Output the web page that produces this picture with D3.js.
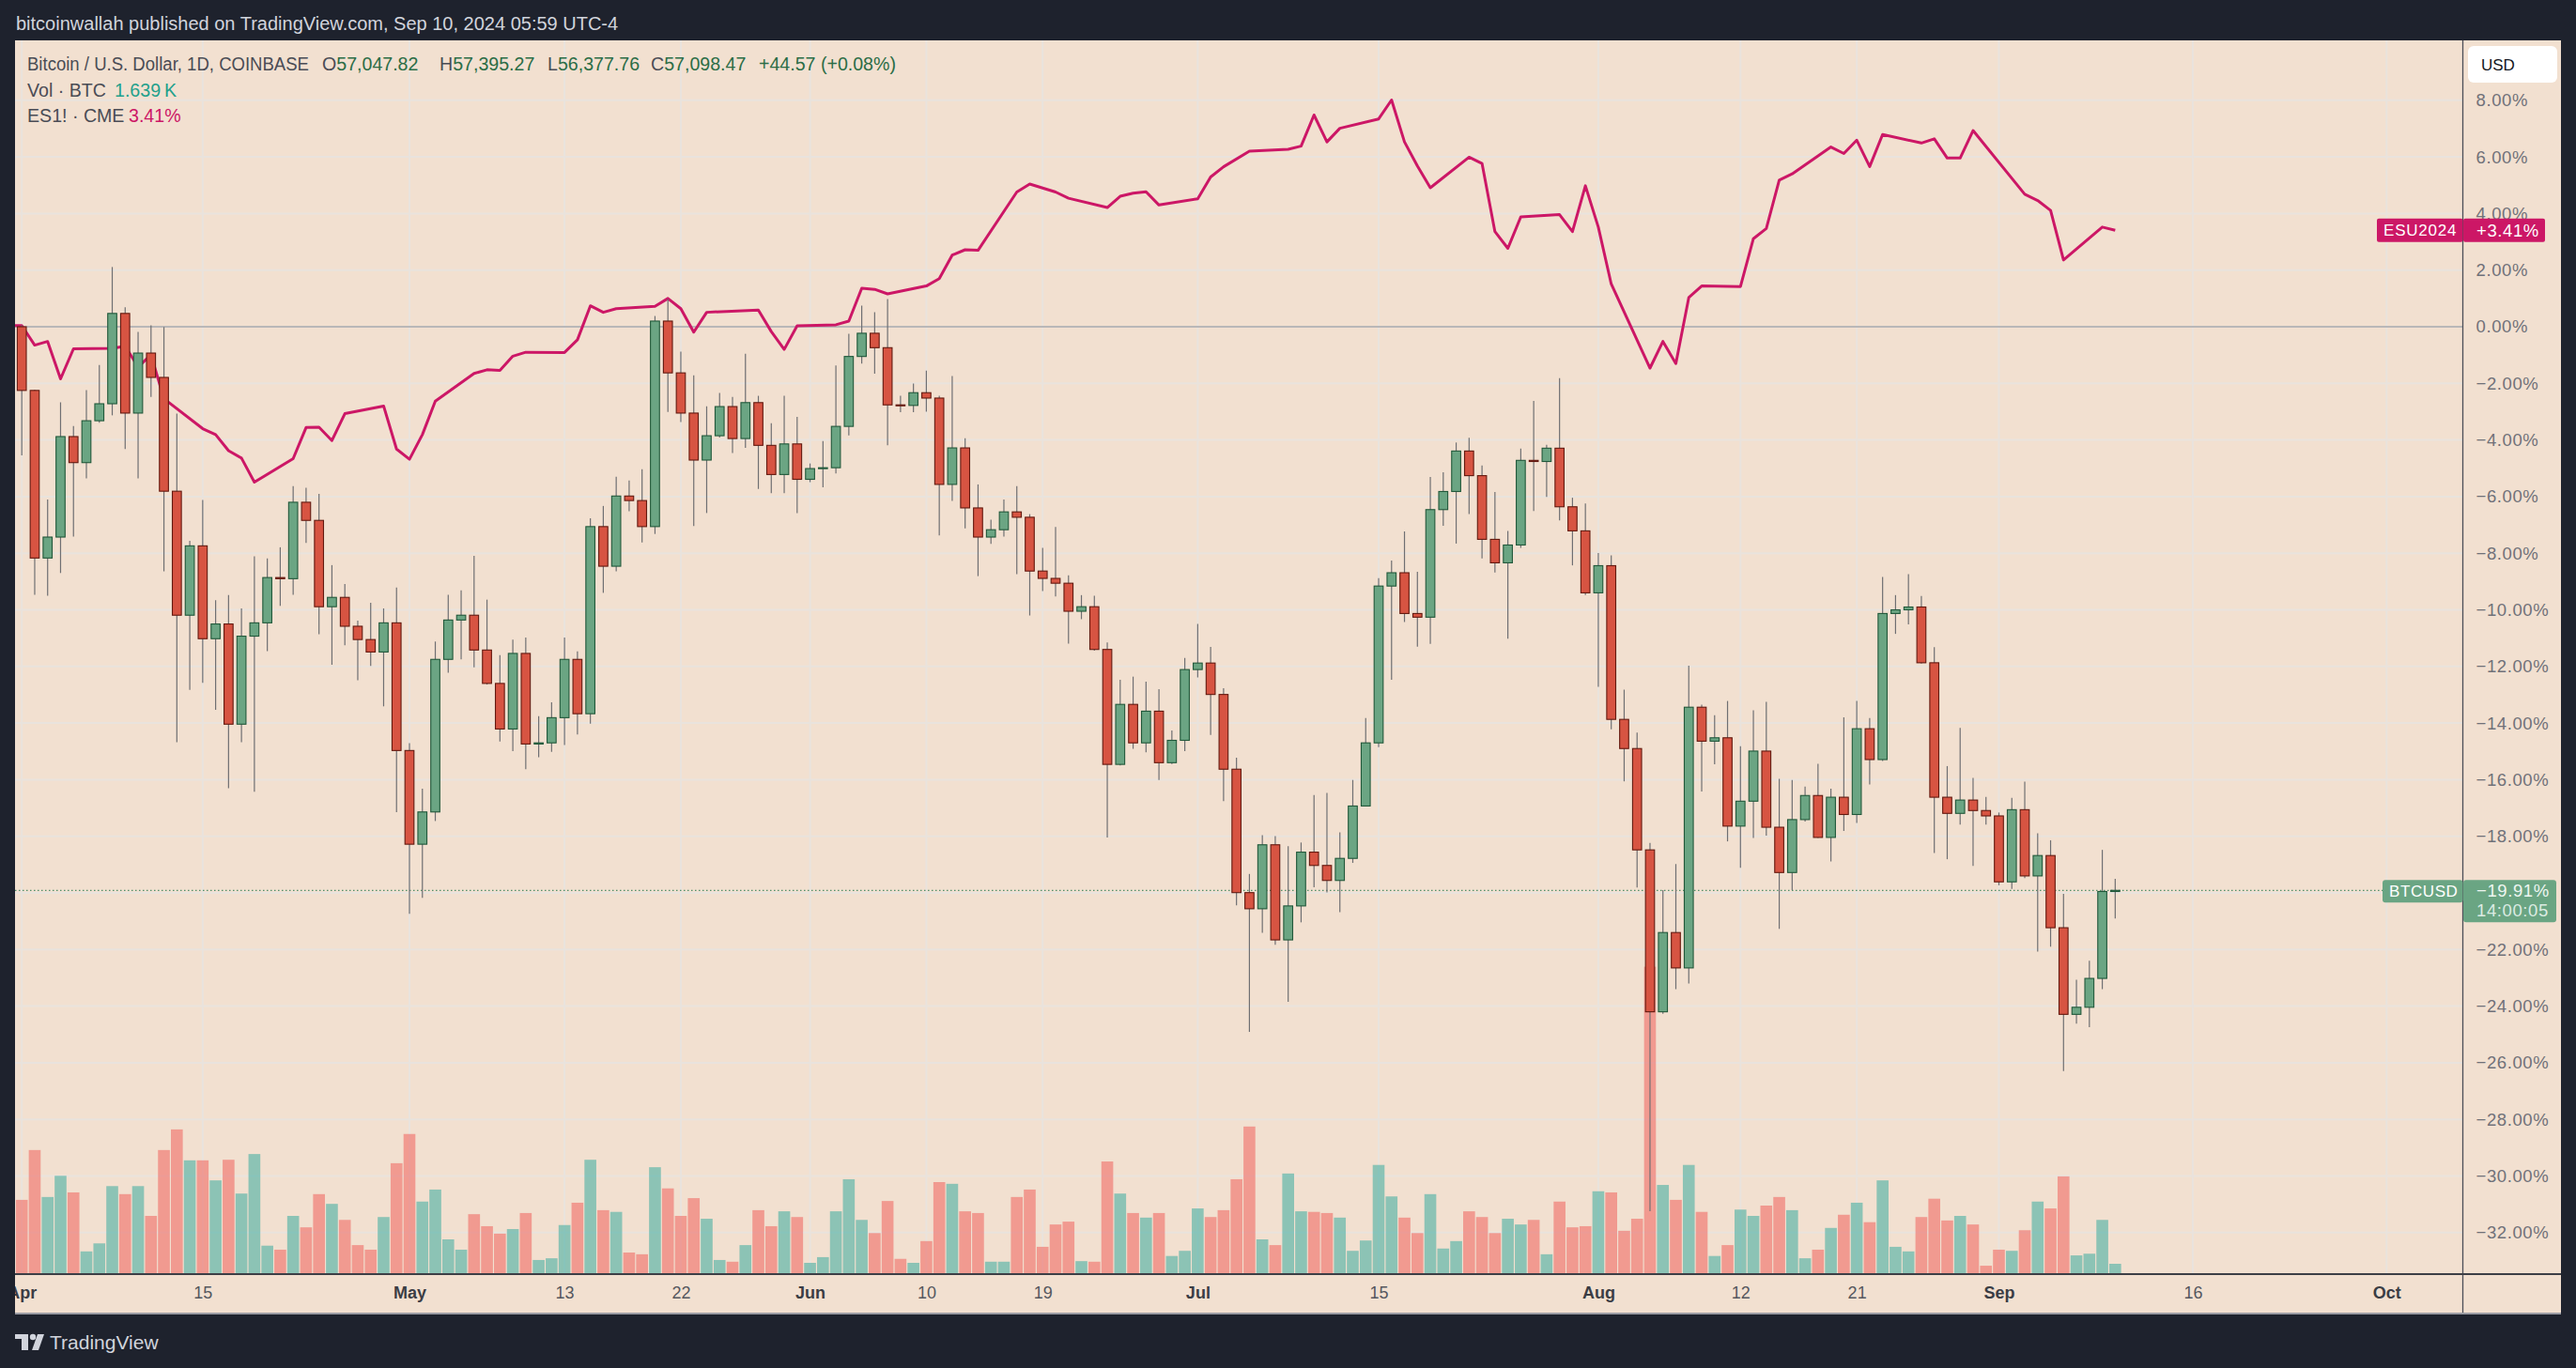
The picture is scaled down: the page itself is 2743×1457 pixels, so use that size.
<!DOCTYPE html>
<html><head><meta charset="utf-8">
<script src="https://cdn.jsdelivr.net/npm/d3@7"></script>
<style>
html,body{margin:0;padding:0;background:#1e222d;overflow:hidden;}
svg{display:block;}
text{font-family:"Liberation Sans",Arial,sans-serif;}
</style></head><body>
<svg id="chart" width="2743" height="1457"></svg>
<script>
// ===== DATA (BTCUSD daily, % change vs. base; ES1! % change; volume in K BTC) =====
const startDate = "2024-04-01", endDate = "2024-09-10";
const openP = [0.00,-2.25,-8.17,-7.43,-3.88,-4.80,-3.32,-2.72,0.47,-3.05,
-0.93,-1.79,-5.81,-10.19,-7.74,-11.02,-10.50,-14.04,-10.93,-10.46,
-8.86,-8.90,-6.20,-6.84,-9.89,-9.56,-10.58,-11.05,-11.49,-10.46,
-14.97,-18.28,-17.14,-11.75,-10.36,-10.19,-11.42,-12.60,-14.21,-11.54,
-14.74,-14.70,-13.81,-11.75,-13.67,-7.06,-8.46,-5.98,-6.14,-7.06,
0.20,-1.63,-3.05,-4.71,-3.85,-2.82,-3.95,-2.68,-4.19,-5.22,
-4.14,-5.39,-5.01,-4.98,-3.52,-1.05,-0.23,-0.74,-2.76,-2.78,
-2.33,-2.52,-5.57,-4.28,-6.40,-7.43,-7.17,-6.54,-6.73,-8.63,
-8.89,-9.06,-10.05,-9.89,-11.40,-15.46,-13.34,-14.70,-13.58,-15.40,
-14.61,-12.11,-11.88,-12.99,-15.63,-19.99,-20.56,-18.30,-21.66,-20.46,
-18.56,-19.03,-19.56,-18.78,-16.93,-14.70,-9.16,-8.69,-10.13,-10.26,
-6.46,-5.82,-4.39,-5.26,-7.51,-8.34,-7.71,-4.72,-4.76,-4.29,
-6.36,-7.21,-9.40,-8.44,-13.87,-14.90,-18.48,-24.20,-21.40,-22.65,
-13.44,-14.64,-14.52,-17.64,-16.76,-14.99,-17.68,-19.28,-17.41,-16.56,
-18.04,-16.62,-17.23,-14.20,-15.29,-10.13,-10.00,-9.90,-11.87,-16.62,
-17.19,-16.72,-17.09,-17.28,-19.61,-17.06,-19.40,-18.68,-21.23,-24.29,
-24.04,-23.02,-19.95];
const highP = [0.06,-2.22,-6.10,-2.67,-3.51,-2.24,-1.35,2.11,0.69,-0.18,
0.05,-0.01,-3.07,-7.56,-6.12,-9.66,-9.48,-9.95,-8.11,-8.18,
-7.79,-5.63,-5.69,-5.90,-8.42,-9.09,-10.38,-9.75,-9.95,-9.21,
-14.71,-16.32,-11.12,-9.47,-9.31,-8.09,-9.64,-11.60,-11.05,-10.98,
-13.76,-13.27,-10.98,-11.47,-6.77,-6.33,-5.30,-5.43,-5.03,0.38,
0.98,-0.88,-1.72,-2.81,-2.34,-2.48,-0.95,-2.44,-3.41,-2.44,
-3.18,-4.83,-4.04,-1.37,-0.25,0.75,0.51,0.98,-2.44,-2.01,
-1.55,-2.44,-1.74,-3.94,-5.57,-6.82,-6.10,-5.63,-6.62,-7.81,
-7.07,-8.78,-9.48,-9.50,-11.15,-12.47,-12.36,-12.54,-12.80,-14.26,
-11.70,-10.50,-11.31,-12.77,-15.22,-19.33,-17.96,-17.99,-18.35,-18.22,
-16.54,-16.47,-17.86,-16.01,-13.82,-8.88,-8.26,-7.23,-8.66,-5.31,
-5.14,-4.09,-3.92,-4.90,-5.84,-7.21,-4.30,-2.62,-4.17,-1.82,
-6.04,-6.24,-7.99,-8.08,-12.82,-14.34,-18.23,-19.90,-18.98,-11.97,
-13.35,-13.72,-13.22,-14.82,-13.55,-13.25,-15.97,-16.01,-16.24,-15.44,
-16.32,-13.80,-13.22,-13.82,-8.84,-9.48,-8.74,-9.51,-11.32,-15.52,
-14.17,-15.94,-16.61,-17.16,-16.64,-16.07,-17.89,-18.14,-20.03,-23.07,
-22.40,-18.48,-19.50];
const lowP = [-4.54,-9.47,-9.50,-8.70,-7.41,-5.36,-3.39,-3.13,-4.32,-5.36,
-2.48,-8.64,-14.68,-12.83,-12.58,-13.53,-16.30,-14.68,-16.43,-11.46,
-9.86,-9.47,-7.64,-10.86,-11.94,-11.25,-12.49,-11.98,-13.41,-17.15,
-20.74,-20.17,-17.46,-12.22,-11.75,-12.03,-12.64,-14.65,-14.99,-15.63,
-15.21,-15.02,-14.78,-14.40,-14.02,-9.40,-8.64,-6.52,-7.62,-7.32,
-3.01,-3.37,-7.04,-6.58,-3.91,-4.46,-4.28,-5.73,-5.88,-5.88,
-6.58,-5.49,-5.67,-5.18,-3.84,-1.30,-1.66,-4.19,-3.02,-3.02,
-3.00,-7.37,-6.15,-7.12,-8.81,-7.67,-7.41,-8.74,-10.20,-9.34,
-9.53,-11.19,-10.33,-11.44,-18.04,-15.50,-14.91,-15.03,-16.01,-15.45,
-14.99,-12.39,-14.42,-16.76,-20.44,-24.91,-21.41,-21.83,-23.85,-21.04,
-19.80,-19.98,-20.68,-18.94,-16.93,-14.85,-12.47,-10.43,-11.30,-11.20,
-7.03,-7.66,-6.62,-8.18,-8.68,-11.02,-7.81,-6.51,-6.01,-6.84,
-8.43,-9.48,-12.72,-14.22,-16.06,-19.81,-31.24,-24.27,-23.40,-23.20,
-16.42,-15.46,-18.18,-19.11,-18.06,-17.98,-21.27,-19.90,-17.48,-18.06,
-18.89,-17.81,-17.53,-16.17,-15.34,-10.85,-10.51,-11.90,-18.59,-18.81,
-17.59,-19.05,-17.59,-19.73,-19.86,-19.48,-22.07,-21.90,-26.29,-24.62,
-24.74,-23.40,-20.90];
const closeP = [-2.25,-8.17,-7.43,-3.88,-4.80,-3.32,-2.72,0.47,-3.05,-0.93,
-1.79,-5.81,-10.19,-7.74,-11.02,-10.50,-14.04,-10.93,-10.46,-8.86,
-8.90,-6.20,-6.84,-9.89,-9.56,-10.58,-11.05,-11.49,-10.46,-14.97,
-18.28,-17.14,-11.75,-10.36,-10.19,-11.42,-12.60,-14.21,-11.54,-14.74,
-14.70,-13.81,-11.75,-13.67,-7.06,-8.46,-5.98,-6.14,-7.06,0.20,
-1.63,-3.05,-4.71,-3.85,-2.82,-3.95,-2.68,-4.19,-5.22,-4.14,
-5.39,-5.01,-4.98,-3.52,-1.05,-0.23,-0.74,-2.76,-2.78,-2.33,
-2.52,-5.57,-4.28,-6.40,-7.43,-7.17,-6.54,-6.73,-8.63,-8.89,
-9.06,-10.05,-9.89,-11.40,-15.46,-13.34,-14.70,-13.58,-15.40,-14.61,
-12.11,-11.88,-12.99,-15.63,-19.99,-20.56,-18.30,-21.66,-20.46,-18.56,
-19.03,-19.56,-18.78,-16.93,-14.70,-9.16,-8.69,-10.13,-10.26,-6.46,
-5.82,-4.39,-5.26,-7.51,-8.34,-7.71,-4.72,-4.76,-4.29,-6.36,
-7.21,-9.40,-8.44,-13.87,-14.90,-18.48,-24.20,-21.40,-22.65,-13.44,
-14.64,-14.52,-17.64,-16.76,-14.99,-17.68,-19.28,-17.41,-16.56,-18.04,
-16.62,-17.23,-14.20,-15.29,-10.13,-10.00,-9.90,-11.87,-16.62,-17.19,
-16.72,-17.09,-17.28,-19.61,-17.06,-19.40,-18.68,-21.23,-24.29,-24.04,
-23.02,-19.95,-19.91];
const volumeK = [12.8,21.5,13.3,17.0,14.1,3.8,5.2,15.2,13.8,15.2,
10.0,21.5,25.1,19.7,19.7,16.2,19.8,13.9,20.8,4.8,
4.1,10.0,8.0,13.8,12.1,9.3,4.9,4.1,9.8,19.2,
24.3,12.5,14.6,5.9,4.1,10.3,8.2,6.9,7.7,10.5,
2.3,2.6,8.4,12.3,19.8,11.0,10.7,3.6,3.3,18.5,
14.8,10.0,13.1,9.5,2.3,2.0,4.9,11.0,8.2,10.8,
9.8,1.8,2.8,10.8,16.4,9.3,7.0,12.6,2.5,1.8,
5.6,15.9,15.6,10.8,10.5,2.0,2.0,13.3,14.6,4.6,
8.5,9.0,2.1,2.0,19.5,13.9,10.5,9.7,10.5,3.0,
3.9,11.3,9.8,11.0,16.4,25.6,5.9,4.9,17.4,10.8,
10.7,10.5,9.7,3.9,5.7,18.9,13.4,9.7,7.0,13.8,
4.3,5.6,10.8,9.8,7.0,9.5,8.5,9.3,3.3,12.5,
8.0,8.2,14.3,14.1,7.4,9.5,53.5,15.4,12.8,18.9,
10.7,3.0,4.9,11.1,10.0,11.8,13.3,11.0,2.6,4.1,
7.9,10.2,12.3,8.9,16.2,4.6,3.8,9.8,13.0,9.2,
10.0,8.5,1.3,4.1,3.9,7.5,12.5,11.3,16.9,3.1,
3.4,9.3,1.639];
// ES1! (CME) % change, null on non-trading days
const esPrev = [["2024-03-28", 0.06]];
const esP = [0.04,-0.65,-0.52,-1.84,-0.78,null,null,-0.76,-0.69,-1.42,
-0.99,-2.54,null,null,-3.60,-3.81,-4.38,-4.64,-5.49,null,
null,-4.66,-3.56,-3.55,-4.02,-3.07,null,null,-2.80,-4.32,
-4.68,-3.81,-2.63,null,null,-1.65,-1.52,-1.54,-1.04,-0.90,
null,null,-0.91,-0.46,0.74,0.51,0.64,null,null,0.72,
1.00,0.64,-0.19,0.51,null,null,null,0.59,-0.17,-0.80,
0.03,null,null,0.07,0.20,1.36,1.32,1.16,null,null,
1.44,1.70,2.53,2.72,2.70,null,null,4.76,5.04,null,
4.76,4.54,null,null,4.21,4.61,4.72,4.77,4.30,null,
null,4.52,5.29,5.65,null,6.20,null,null,6.27,6.38,
7.48,6.53,7.01,null,null,7.34,8.01,6.53,5.68,4.91,
null,null,5.99,5.77,3.36,2.77,3.88,null,null,3.96,
3.36,4.98,3.52,1.51,null,null,-1.46,-0.52,-1.30,1.03,
1.44,null,null,1.42,3.11,3.47,5.18,5.40,null,null,
6.35,6.12,6.59,5.66,6.79,null,null,6.49,6.64,5.96,
5.96,6.93,null,null,null,4.68,4.46,4.11,2.36,null,
null,3.52,3.41];
const yTicks = [8,6,4,2,0,-2,-4,-6,-8,-10,-12,-14,-16,-18,-20,-22,-24,-26,-28,-30,-32];
const xTickDates = ["2024-04-01","2024-04-15","2024-05-01","2024-05-13","2024-05-22","2024-06-01","2024-06-10","2024-06-19","2024-07-01","2024-07-15","2024-08-01","2024-08-12","2024-08-21","2024-09-01","2024-09-16","2024-10-01"];
const xTickLabels = ["Apr","15","May","13","22","Jun","10","19","Jul","15","Aug","12","21","Sep","16","Oct"];
const monthLabels = ["Apr","May","Jun","Jul","Aug","Sep","Oct"];
const lastPct = -19.91, lastEs = 3.41;

// ===== LAYOUT =====
const W = 2743, H = 1457;
const P = {left:16, top:43, right:2727, bottom:1400};
const plotRight = 2622.5, axisY = 1357, volBase = 1356;
const C = {dark:"#1e222d", bg:"#f2e0d0", grid:"#e9e3dd", upFill:"#6ba583", upLine:"#21583a",
  dnFill:"#d75442", dnLine:"#63190f", wick:"#6f6f72", es:"#cc1766"};

const parse = d3.utcParse("%Y-%m-%d");
const dates = d3.utcDay.range(parse(startDate), d3.utcDay.offset(parse(endDate), 1));
const bars = dates.map((d,i)=>({d, o:openP[i], h:highP[i], l:lowP[i], c:closeP[i], v:volumeK[i]}));

const x = d3.scaleUtc().domain([parse("2024-04-01"), parse("2024-10-01")]).range([23.2, 2541.3]);
const y = d3.scaleLinear().domain([-32, 8]).range([1312.8, 106.8]);
const yv = d3.scaleLinear().domain([0, 25]).range([volBase, volBase - 152.5]);

const svg = d3.select("#chart");
svg.append("rect").attr("width",W).attr("height",H).attr("fill",C.dark);
svg.append("rect").attr("x",P.left).attr("y",P.top).attr("width",P.right-P.left).attr("height",P.bottom-P.top).attr("fill",C.bg);

const defs = svg.append("defs");
defs.append("clipPath").attr("id","plot").append("rect").attr("x",P.left).attr("y",P.top).attr("width",plotRight-P.left).attr("height",volBase-P.top);
defs.append("clipPath").attr("id","taxis").append("rect").attr("x",P.left).attr("y",axisY).attr("width",plotRight-P.left).attr("height",P.bottom-axisY);

const plot = svg.append("g").attr("clip-path","url(#plot)");

// grid
plot.append("g").selectAll("line").data(yTicks).join("line")
  .attr("x1",P.left).attr("x2",plotRight).attr("y1",d=>y(d)).attr("y2",d=>y(d))
  .attr("stroke",C.grid).attr("stroke-width",2);
plot.append("g").selectAll("line").data(xTickDates).join("line")
  .attr("x1",d=>x(parse(d))).attr("x2",d=>x(parse(d))).attr("y1",P.top).attr("y2",volBase)
  .attr("stroke",C.grid).attr("stroke-width",2);

// volume
plot.append("g").selectAll("rect").data(bars).join("rect")
  .attr("x",d=>x(d.d)-6.3).attr("width",12.6)
  .attr("y",d=>yv(d.v)).attr("height",d=>volBase-yv(d.v))
  .attr("fill",d=>d.c>=d.o?"rgba(38,166,154,0.5)":"rgba(239,83,80,0.5)");

// zero line
plot.append("line").attr("x1",P.left).attr("x2",plotRight).attr("y1",y(0)).attr("y2",y(0))
  .attr("stroke","#a9a9ab").attr("stroke-width",1.4);

// last price dotted line
plot.append("line").attr("x1",P.left).attr("x2",2537).attr("y1",y(lastPct)).attr("y2",y(lastPct))
  .attr("stroke","#4f8e68").attr("stroke-width",1.2).attr("stroke-dasharray","1.5,2.5");

// ES line
const esPts = esPrev.map(([d,v])=>({d:parse(d), v}))
  .concat(dates.map((d,i)=>({d, v:esP[i]})).filter(p=>p.v!==null));
plot.append("path").datum(esPts)
  .attr("d", d3.line().x(p=>x(p.d)).y(p=>y(p.v)))
  .attr("fill","none").attr("stroke",C.es).attr("stroke-width",3).attr("stroke-linejoin","round");

// candles
const cg = plot.append("g");
cg.selectAll("line").data(bars).join("line")
  .attr("x1",d=>x(d.d)).attr("x2",d=>x(d.d)).attr("y1",d=>y(d.h)).attr("y2",d=>y(d.l))
  .attr("stroke",C.wick).attr("stroke-width",1.2);
cg.selectAll("rect").data(bars).join("rect")
  .attr("x",d=>x(d.d)-4.8).attr("width",9.6)
  .attr("y",d=>y(Math.max(d.o,d.c)))
  .attr("height",d=>Math.max(1, Math.abs(y(d.o)-y(d.c))))
  .attr("fill",d=>d.c>=d.o?C.upFill:C.dnFill)
  .attr("stroke",d=>d.c>=d.o?C.upLine:C.dnLine).attr("stroke-width",1.1);

// axes frame lines
svg.append("line").attr("x1",plotRight).attr("x2",plotRight).attr("y1",P.top).attr("y2",P.bottom).attr("stroke","#4b4e57").attr("stroke-width",1.3);
svg.append("line").attr("x1",P.left).attr("x2",P.right).attr("y1",axisY).attr("y2",axisY).attr("stroke","#3d3f46").attr("stroke-width",2);
svg.append("line").attr("x1",P.left).attr("x2",P.right).attr("y1",P.bottom-1).attr("y2",P.bottom-1).attr("stroke","#9a9ca3").attr("stroke-width",2);

// right axis
const ra = svg.append("g").attr("transform",`translate(${plotRight},0)`)
  .call(d3.axisRight(y).tickValues(yTicks).tickSize(0).tickPadding(14)
    .tickFormat(d => (d<0?"\u2212":"") + Math.abs(d).toFixed(2) + "%"));
ra.select(".domain").remove();
ra.selectAll("text").attr("font-size",18.5).attr("fill","#707179").attr("letter-spacing","0.6px")
  .attr("font-family","'Liberation Sans',Arial,sans-serif");

// bottom axis (outer group clipped in page coordinates, inner group translated)
const baOuter = svg.append("g").attr("clip-path","url(#taxis)");
const ba = baOuter.append("g").attr("transform",`translate(0,${axisY})`)
  .call(d3.axisBottom(x).tickValues(xTickDates.map(parse)).tickSize(0).tickPadding(13)
    .tickFormat((d,i)=>xTickLabels[i]));
ba.select(".domain").remove();
ba.selectAll("text").attr("font-size",18).attr("font-family","'Liberation Sans',Arial,sans-serif")
  .attr("fill",(d,i)=>monthLabels.includes(xTickLabels[i])?"#3b3d44":"#55575e")
  .attr("font-weight",(d,i)=>monthLabels.includes(xTickLabels[i])?"bold":"normal");

// USD box
svg.append("rect").attr("x",2628).attr("y",49).attr("width",95).attr("height",39).attr("rx",6).attr("fill","#ffffff");
svg.append("text").attr("x",2642).attr("y",75).attr("font-size",17).attr("fill","#131722").text("USD");

// ES label
const esY = y(lastEs);
svg.append("rect").attr("x",2531).attr("y",esY-12.5).attr("width",plotRight-2531).attr("height",25).attr("rx",2).attr("fill",C.es);
svg.append("text").attr("x",2538).attr("y",esY+6).attr("font-size",17).attr("fill","#fff").attr("letter-spacing","0.8px").text("ESU2024");
svg.append("rect").attr("x",plotRight+0.5).attr("y",esY-12.5).attr("width",87).attr("height",25).attr("rx",2).attr("fill",C.es);
svg.append("text").attr("x",2637).attr("y",esY+6.5).attr("font-size",18.5).attr("fill","#fff").attr("letter-spacing","0.6px").text("+3.41%");

// BTC label
const bY = y(lastPct);
svg.append("rect").attr("x",2537).attr("y",bY-11).attr("width",plotRight-2537).attr("height",24).attr("rx",3).attr("fill","#6aa583");
svg.append("text").attr("x",2544).attr("y",bY+7).attr("font-size",17).attr("fill","#fff").attr("letter-spacing","0.6px").text("BTCUSD");
svg.append("rect").attr("x",plotRight+0.5).attr("y",bY-11).attr("width",99).attr("height",45).attr("rx",3).attr("fill","#6aa583");
svg.append("text").attr("x",2637).attr("y",bY+7).attr("font-size",18.5).attr("fill","#eef6f1").attr("letter-spacing","0.6px").text("\u221219.91%");
svg.append("text").attr("x",2637).attr("y",bY+28).attr("font-size",18.5).attr("fill","#dcebe2").attr("letter-spacing","0.6px").text("14:00:05");

// header
svg.append("text").attr("x",17).attr("y",32).attr("font-size",20).attr("fill","#d1d4dc")
  .text("bitcoinwallah published on TradingView.com, Sep 10, 2024 05:59 UTC-4");

// legend
const lg = svg.append("g").attr("font-size",19.6);
const gray = "#4a4c55", green = "#2b6d46";
lg.append("text").attr("x",29).attr("y",75).attr("fill",gray)
  .attr("textLength",300).attr("lengthAdjust","spacingAndGlyphs")
  .text("Bitcoin / U.S. Dollar, 1D, COINBASE");
[["O","57,047.82",343],["H","57,395.27",468],["L","56,377.76",583],["C","57,098.47",693]].forEach(([k,v,xx])=>{
  const t = lg.append("text").attr("x",xx).attr("y",75);
  t.append("tspan").attr("fill",gray).text(k);
  t.append("tspan").attr("fill",green).text(v);
});
lg.append("text").attr("x",808).attr("y",75).attr("fill",green).text("+44.57 (+0.08%)");
const l2 = lg.append("text").attr("x",29).attr("y",103);
l2.append("tspan").attr("fill",gray).text("Vol \u00b7 BTC");
l2.append("tspan").attr("x",122).attr("fill","#22a08c").text("1.639\u2009K");
const l3 = lg.append("text").attr("x",29).attr("y",130);
l3.append("tspan").attr("fill",gray).text("ES1! \u00b7 CME");
l3.append("tspan").attr("x",137).attr("fill",C.es).text("3.41%");

// footer logo
const f = svg.append("g").attr("fill","#d1d4dc");
f.append("rect").attr("x",16).attr("y",1421).attr("width",14).attr("height",5);
f.append("rect").attr("x",23).attr("y",1421).attr("width",7).attr("height",17);
f.append("circle").attr("cx",35).attr("cy",1424).attr("r",3.2);
f.append("path").attr("d","M40,1421 L47,1421 L41,1438 L34,1438 Z");
svg.append("text").attr("x",53).attr("y",1437).attr("font-size",21).attr("fill","#d1d4dc").text("TradingView");
</script>
</body></html>
